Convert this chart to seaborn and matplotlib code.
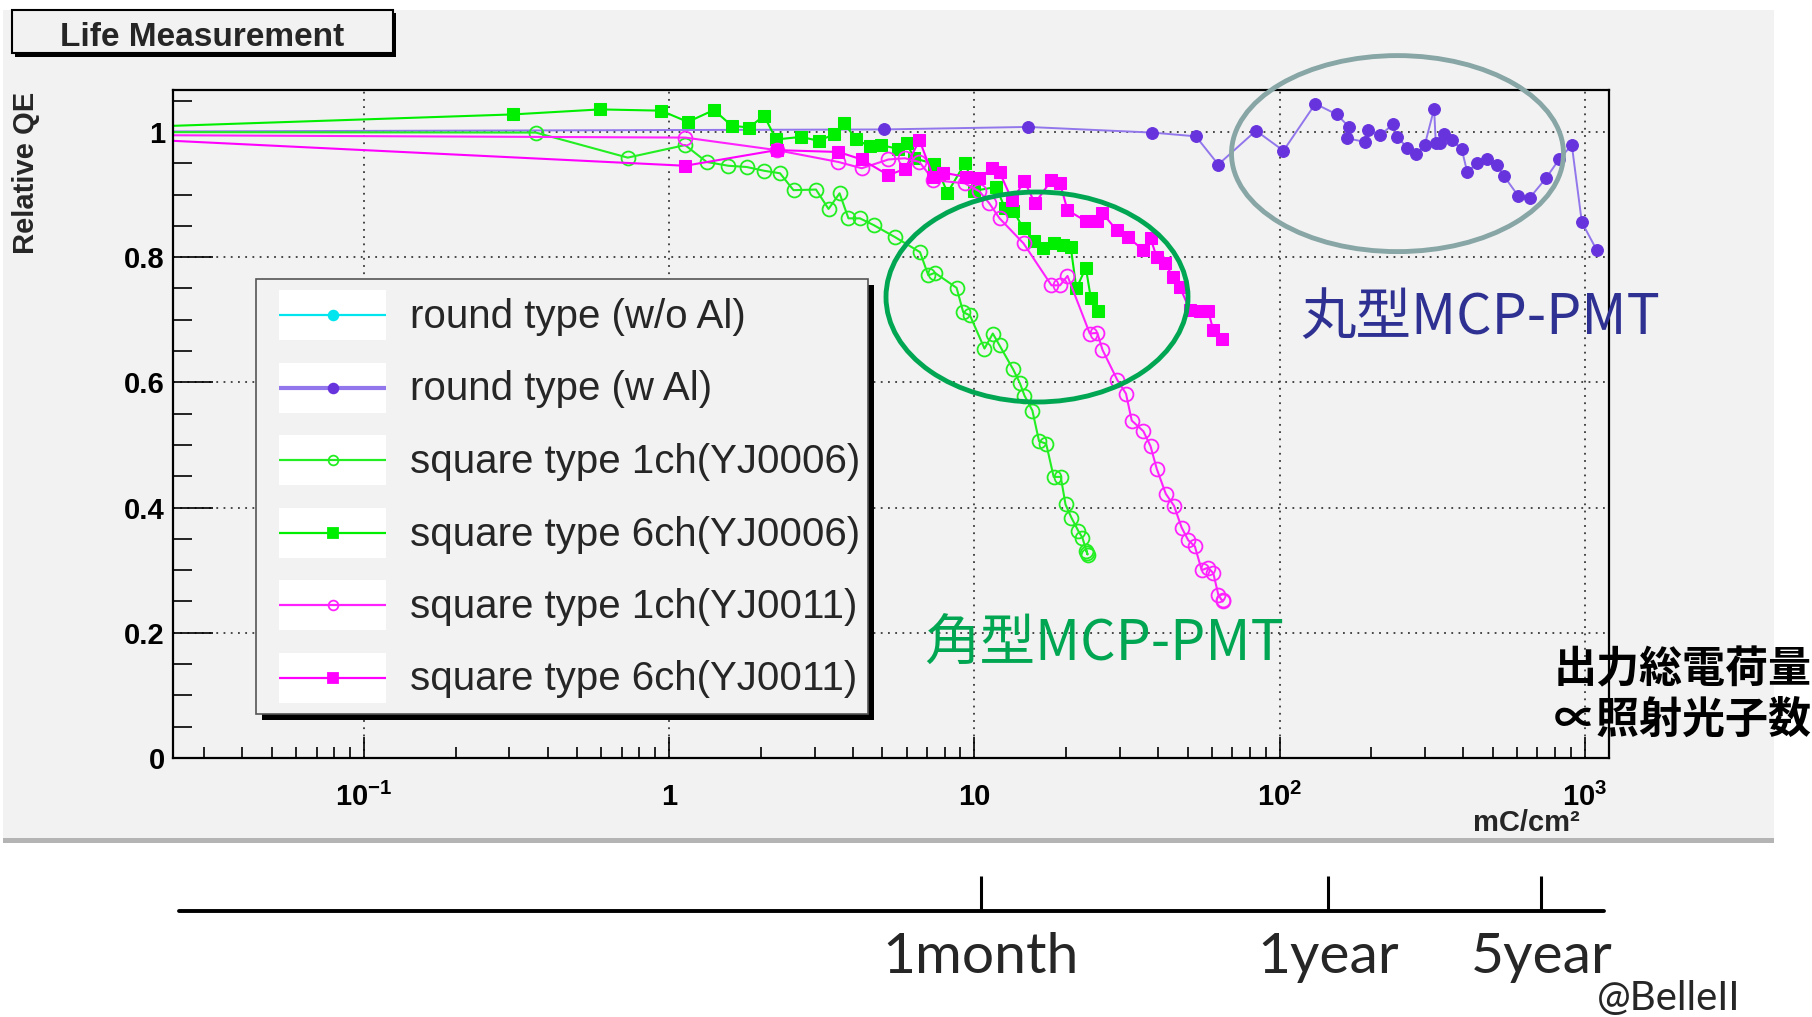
import numpy as np
import matplotlib
matplotlib.use("Agg")
import matplotlib.pyplot as plt
import seaborn as sns
from matplotlib.patches import Rectangle, Ellipse
from matplotlib.ticker import FixedLocator, FixedFormatter, LogLocator, MultipleLocator, NullFormatter

# ---------------- data ----------------
labels = ["round type (w/o Al)", "round type (w Al)", "square type 1ch(YJ0006)",
          "square type 6ch(YJ0006)", "square type 1ch(YJ0011)", "square type 6ch(YJ0011)"]

round_woAl_x = [0.006]
round_woAl_y = [1.0]

round_wAl_x = [0.006, 5.06, 15.0, 38.2, 53.2, 63, 83.7, 103, 131, 154, 169, 166, 191, 195, 214, 235,
               243, 262, 280, 299, 321, 325, 335, 345, 366, 395, 412, 444, 479, 514, 543, 605, 661,
               746, 826, 907, 978, 1095]
round_wAl_y = [1.0, 1.004, 1.008, 0.999, 0.993, 0.948, 1.002, 0.970, 1.045, 1.028, 1.008, 0.990,
               0.984, 1.003, 0.995, 1.012, 0.992, 0.975, 0.965, 0.979, 1.037, 0.982, 0.982, 0.996,
               0.987, 0.973, 0.936, 0.950, 0.957, 0.948, 0.930, 0.898, 0.895, 0.926, 0.957, 0.979,
               0.856, 0.811]

sq1_06_x = [0.006, 0.366, 0.732, 1.129, 1.328, 1.564, 1.797, 2.048, 2.31, 2.557, 3.03, 3.33, 3.62,
            3.87, 4.22, 4.69, 5.50, 6.64, 7.07, 7.43, 8.75, 9.2, 9.68, 10.8, 11.5, 12.1, 13.4, 14.1,
            14.6, 15.5, 16.3, 17.2, 18.2, 19.2, 19.9, 20.8, 21.9, 22.6, 23.4, 23.5, 23.3]
sq1_06_y = [1.0, 0.999, 0.959, 0.979, 0.952, 0.946, 0.944, 0.938, 0.934, 0.907, 0.908, 0.877, 0.902,
            0.862, 0.862, 0.851, 0.832, 0.808, 0.771, 0.775, 0.751, 0.712, 0.707, 0.654, 0.678, 0.659,
            0.621, 0.599, 0.579, 0.555, 0.506, 0.502, 0.449, 0.449, 0.405, 0.384, 0.363, 0.352, 0.328,
            0.325, 0.331]

sq6_06_x = [0.006, 0.308, 0.594, 0.942, 1.152, 1.402, 1.605, 1.828, 2.048, 2.242, 2.70, 3.09, 3.47,
            3.75, 4.10, 4.54, 4.94, 5.64, 6.01, 6.35, 7.39, 7.69, 8.17, 9.35, 9.98, 11.8, 12.6, 13.4,
            14.5, 15.7, 16.8, 18.2, 19.6, 20.7, 21.6, 23.2, 24.1, 25.5]
sq6_06_y = [1.0, 1.028, 1.036, 1.034, 1.016, 1.035, 1.010, 1.007, 1.026, 0.988, 0.992, 0.986, 0.996,
            1.014, 0.988, 0.977, 0.979, 0.973, 0.982, 0.958, 0.949, 0.933, 0.903, 0.951, 0.906, 0.912,
            0.878, 0.874, 0.846, 0.826, 0.815, 0.823, 0.819, 0.816, 0.750, 0.783, 0.734, 0.714]

sq1_11_x = [0.006, 1.129, 2.25, 3.59, 4.28, 5.23, 5.93, 6.61, 7.35, 9.3, 10.4, 11.2, 12.1, 14.5, 17.9,
            19.1, 20.2, 23.9, 25.3, 26.3, 29.4, 31.4, 32.8, 35.8, 37.8, 39.6, 42.4, 45.1, 47.8, 50.2,
            52.8, 55.6, 58.4, 60.7, 63.0, 65.1, 65.5]
sq1_11_y = [0.996, 0.991, 0.971, 0.952, 0.942, 0.956, 0.958, 0.952, 0.923, 0.918, 0.905, 0.886, 0.862,
            0.822, 0.755, 0.755, 0.770, 0.678, 0.679, 0.652, 0.604, 0.582, 0.539, 0.522, 0.498, 0.462,
            0.422, 0.403, 0.368, 0.348, 0.338, 0.300, 0.304, 0.295, 0.261, 0.250, 0.253]

sq6_11_x = [0.006, 1.129, 2.25, 3.59, 4.28, 5.23, 5.93, 6.61, 7.35, 7.92, 9.40, 10.4, 11.4, 12.1, 13.3,
            14.6, 15.8, 17.9, 19.1, 20.2, 23.3, 25.2, 26.2, 29.3, 31.9, 35.8, 37.8, 39.6, 42.1, 44.9,
            47.2, 50.9, 54.8, 58.4, 60.7, 64.6]
sq6_11_y = [1.0, 0.946, 0.971, 0.968, 0.956, 0.931, 0.941, 0.987, 0.928, 0.935, 0.928, 0.926, 0.942,
            0.936, 0.891, 0.921, 0.886, 0.923, 0.918, 0.875, 0.857, 0.857, 0.871, 0.843, 0.832, 0.811,
            0.830, 0.800, 0.790, 0.768, 0.752, 0.715, 0.714, 0.714, 0.683, 0.670]

x_ticks = [0.1, 1, 10, 100, 1000]
x_ticklabels = [r"$\mathbf{10^{-1}}$", "1", "10", r"$\mathbf{10^{2}}$", r"$\mathbf{10^{3}}$"]
y_ticks = [0, 0.2, 0.4, 0.6, 0.8, 1.0]
y_ticklabels = ["0", "0.2", "0.4", "0.6", "0.8", "1"]

timeline_x = [10.5, 144, 720]
timeline_labels = ["1month", "1year", "5year"]

# ---------------- style ----------------
sns.set_theme(style="white")
plt.rcParams["font.family"] = ["Liberation Sans", "DejaVu Sans"]
plt.rcParams["mathtext.fontset"] = "custom"
plt.rcParams["mathtext.rm"] = "Liberation Sans:bold"
plt.rcParams["mathtext.bf"] = "Liberation Sans:bold"
plt.rcParams["mathtext.it"] = "Liberation Sans:bold"
plt.rcParams["mathtext.sf"] = "Liberation Sans:bold"

W, H = 1812, 1017
PANEL = "#f2f2f2"
fig = plt.figure(figsize=(W / 100, H / 100), dpi=100, facecolor="white")

def fx(px):
    return px / W

def fy(py):
    return 1 - py / H

# background panel (pixel coordinates)
bg = fig.add_axes([0, 0, 1, 1], zorder=0)
bg.set_xlim(0, W); bg.set_ylim(H, 0); bg.axis("off")
bg.add_patch(Rectangle((3, 10), 1771, 830, facecolor=PANEL, edgecolor="none"))
bg.add_patch(Rectangle((3, 838), 1771, 5, facecolor="#b4b4b4", edgecolor="none"))

# main axes
AX_L, AX_R, AX_T, AX_B = 173.3, 1608.6, 90, 758
ax = fig.add_axes([fx(AX_L), fy(AX_B), (AX_R - AX_L) / W, (AX_B - AX_T) / H], zorder=1)
ax.set_facecolor(PANEL)
ax.set_xscale("log")
ax.set_axisbelow(True)

series = [
    (round_woAl_x, round_woAl_y, dict(color="#00e5ee", linewidth=1.4, marker="o", markersize=8,
                                      markerfacecolor="#00e5ee", markeredgecolor="#00e5ee")),
    (round_wAl_x, round_wAl_y, dict(color="#9277ec", linewidth=1.4, marker="o", markersize=8.5,
                                    markerfacecolor="#6633dd", markeredgecolor="#6633dd")),
    (sq1_06_x, sq1_06_y, dict(color="#22ee22", linewidth=1.5, marker="o", markersize=10,
                              markerfacecolor="none", markeredgecolor="#22ee22", markeredgewidth=1.3)),
    (sq6_06_x, sq6_06_y, dict(color="#00ee00", linewidth=1.5, marker="s", markersize=9,
                              markerfacecolor="#00ee00", markeredgecolor="#00ee00")),
    (sq1_11_x, sq1_11_y, dict(color="#ff22ff", linewidth=1.5, marker="o", markersize=10,
                              markerfacecolor="none", markeredgecolor="#ff22ff", markeredgewidth=1.3)),
    (sq6_11_x, sq6_11_y, dict(color="#ff00ff", linewidth=1.5, marker="s", markersize=9,
                              markerfacecolor="#ff00ff", markeredgecolor="#ff00ff")),
]
for xs, ys, kw in series:
    sns.lineplot(x=np.asarray(xs, float), y=np.asarray(ys, float), ax=ax, sort=False,
                 estimator=None, legend=False, **kw)

ax.set_xlim(0.02376, 1197)
ax.set_ylim(0, 1.067)
ax.set_xlabel(""); ax.set_ylabel("")
ax.xaxis.set_major_locator(FixedLocator(x_ticks))
ax.xaxis.set_major_formatter(FixedFormatter(x_ticklabels))
ax.xaxis.set_minor_locator(LogLocator(base=10, subs=np.arange(2, 10) * 1.0, numticks=30))
ax.xaxis.set_minor_formatter(NullFormatter())
ax.yaxis.set_major_locator(FixedLocator(y_ticks))
ax.yaxis.set_major_formatter(FixedFormatter(y_ticklabels))
ax.yaxis.set_minor_locator(MultipleLocator(0.05))
ax.tick_params(which="both", direction="in", colors="black", bottom=True, left=True)
ax.tick_params(axis="y", which="major", length=29, width=1.2, pad=6, labelsize=21)
ax.tick_params(axis="y", which="minor", length=14, width=1.2)
ax.tick_params(axis="x", which="major", length=15, width=1.2, pad=18, labelsize=21)
ax.tick_params(axis="x", which="minor", length=8, width=1.2)
for lab in ax.get_xticklabels() + ax.get_yticklabels():
    lab.set_fontweight("bold")
ax.grid(which="major", axis="both", color="#3a3a3a", linestyle=(0, (1, 3)), linewidth=1.3)
for sp in ax.spines.values():
    sp.set_color("black"); sp.set_linewidth(1.6); sp.set_visible(True)

# timeline axes (same logarithmic x scale)
tl = fig.add_axes([fx(AX_L), 0.0, (AX_R - AX_L) / W, (H - 860) / H], zorder=2)
tl.set_xscale("log")
tl.set_xlim(ax.get_xlim())
tl.set_ylim(H, 860)
tl.axis("off")
tl.axhline(911, xmin=0.004, xmax=0.997, color="black", linewidth=2.8)
tl.vlines(timeline_x, 876, 911, color="black", linewidth=2.2)
for xv, lab in zip(timeline_x, timeline_labels):
    tl.text(xv, 973, lab, ha="center", va="baseline", fontsize=41, family=["Lato", "DejaVu Sans"])

# overlay (pixel coordinates)
ov = fig.add_axes([0, 0, 1, 1], zorder=3)
ov.set_xlim(0, W); ov.set_ylim(H, 0); ov.axis("off")

# title box
ov.add_patch(Rectangle((15, 13), 381, 44, facecolor="black", edgecolor="none"))
ov.add_patch(Rectangle((12, 10), 381, 43, facecolor=PANEL, edgecolor="black", linewidth=1.5))
ov.text(202, 37, "Life Measurement", fontsize=24, fontweight="bold", ha="center", va="center")

# y label
ov.text(26, 92, "Relative QE", rotation=90, ha="center", va="top", fontsize=21, fontweight="bold")

# x unit
ov.text(1580, 823, "mC/cm²", ha="right", va="center", fontsize=21, fontweight="bold")

# legend (drawn manually to match the ROOT style)
ov.add_patch(Rectangle((262, 285), 612, 435, facecolor="black", edgecolor="none"))
ov.add_patch(Rectangle((256, 279), 612, 435, facecolor=PANEL, edgecolor="#555555", linewidth=1.2))
for i, (lab, (_, _, kw)) in enumerate(zip(labels, series)):
    yy = 315 + 72.5 * i
    ov.add_patch(Rectangle((279, yy - 25), 107, 50, facecolor="white", edgecolor="none"))
    lw = 3.0 if i == 1 else 1.6
    ov.plot([279, 386], [yy, yy], color=kw["color"], linewidth=lw, solid_capstyle="butt")
    ov.plot([333], [yy], marker=kw["marker"], markersize=7, linestyle="none",
            markerfacecolor=kw["markerfacecolor"], markeredgecolor=kw["markeredgecolor"],
            markeredgewidth=1.3)
    ov.text(410, yy + 2, lab, fontsize=29, ha="left", va="center")

# ellipses
ov.add_patch(Ellipse((1037, 297), 302, 210, fill=False, edgecolor="#00a651", linewidth=3.5))
ov.add_patch(Ellipse((1397.5, 153.6), 332, 196, fill=False, edgecolor="#87a6a5", linewidth=3.5))

cjk = ["Noto Sans CJK JP", "DejaVu Sans"]
ov.text(1300, 318, "丸型MCP-PMT", color="#2e3192", fontsize=40, family=cjk, ha="left", va="center")
ov.text(924, 645, "角型MCP-PMT", color="#00a651", fontsize=40, family=cjk, ha="left", va="center")
ov.text(1554, 669, "出力総電荷量", color="black", fontsize=31, family=cjk, fontweight="bold",
        ha="left", va="center")
ov.text(1554, 720, "∝照射光子数", color="black", fontsize=31, family=cjk, fontweight="bold",
        ha="left", va="center")
ov.text(1597, 1010, "@BelleII", fontsize=29, family=["Lato", "DejaVu Sans"], ha="left", va="baseline")

fig.savefig("out.png", dpi=100, facecolor="white")
